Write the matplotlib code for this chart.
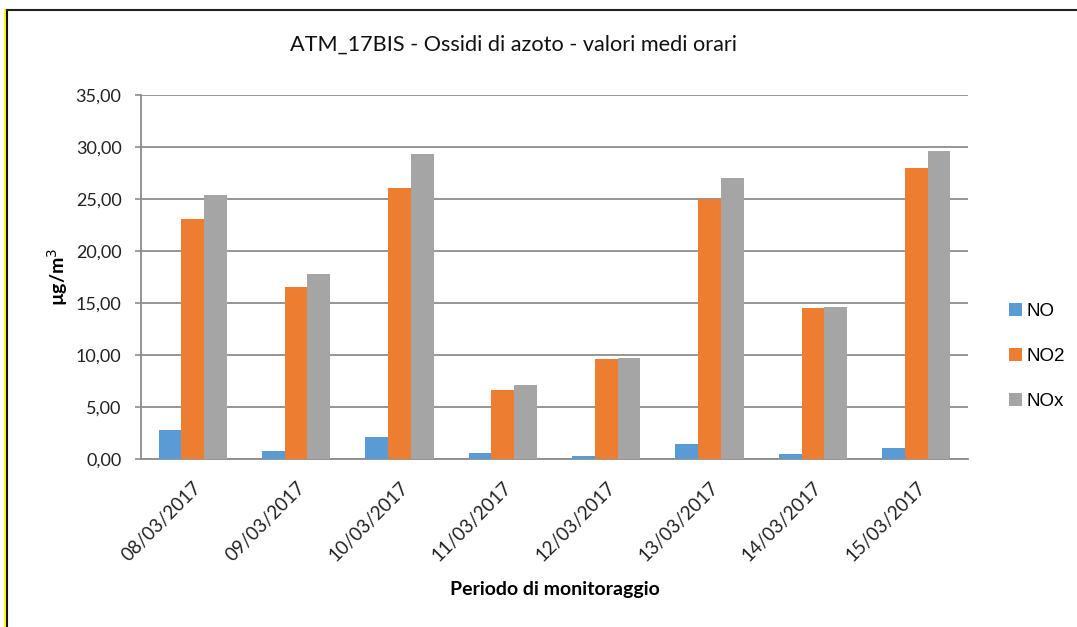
import numpy as np
import matplotlib
matplotlib.use("Agg")
import matplotlib.pyplot as plt
from matplotlib.lines import Line2D

plt.rcParams['font.family'] = ['Lato', 'DejaVu Sans']

dates = ["08/03/2017", "09/03/2017", "10/03/2017", "11/03/2017",
         "12/03/2017", "13/03/2017", "14/03/2017", "15/03/2017"]
no_vals = [2.80, 0.77, 2.15, 0.60, 0.30, 1.40, 0.48, 1.10]
no2_vals = [23.1, 16.5, 26.1, 6.6, 9.6, 25.0, 14.55, 27.95]
nox_vals = [25.4, 17.75, 29.3, 7.1, 9.75, 27.0, 14.65, 29.65]
series_names = ["NO", "NO2", "NOx"]
series_colors = ["#5B9BD5", "#ED7D31", "#A5A5A5"]
yticks = [0, 5, 10, 15, 20, 25, 30, 35]

W, H = 1077, 627
fig = plt.figure(figsize=(W / 100, H / 100), dpi=100)
ax = fig.add_axes([141 / W, 1 - 459 / H, (968 - 141) / W, (459 - 95) / H])

x = np.arange(len(dates))
bw = 0.22
handles = []
for i, (vals, name, col) in enumerate(zip([no_vals, no2_vals, nox_vals], series_names, series_colors)):
    b = ax.bar(x + (i - 1) * bw, vals, width=bw, color=col, label=name, zorder=3)
    handles.append(b)

ax.set_xlim(-0.5, len(dates) - 0.5)
ax.set_ylim(0, 35)
ax.set_yticks(yticks)
ax.set_yticklabels([f"{v:.2f}".replace(".", ",") for v in yticks], fontsize=13, color="#222222")
ax.yaxis.grid(True, color="#8c8c8c", linewidth=1.3, zorder=0)
ax.set_axisbelow(True)
ax.tick_params(axis="y", length=4, color="#8c8c8c", width=1.2, pad=10)
ax.tick_params(axis="x", length=0, pad=14)
ax.set_xticks(x)
ax.set_xticklabels(dates, rotation=45, ha="right", va="top", rotation_mode="anchor",
                   fontsize=13.5, color="#222222")

for side in ["top", "right"]:
    ax.spines[side].set_visible(False)
for side in ["left", "bottom"]:
    ax.spines[side].set_color("#8c8c8c")
    ax.spines[side].set_linewidth(1.3)

ax.set_ylabel("µg/m$^3$", fontsize=14, fontweight="bold")
ax.yaxis.set_label_coords(-0.086, 0.5)
ax.set_xlabel("Periodo di monitoraggio", fontsize=14, fontweight="bold")
ax.xaxis.set_label_coords(0.5, -0.335)
fig.text(513 / W, 1 - 45 / H, "ATM_17BIS - Ossidi di azoto - valori medi orari",
         ha="center", va="center", fontsize=15.6, color="#111111")

leg = ax.legend(handles=handles, labels=series_names, loc="center left",
                bbox_to_anchor=(1.029, 0.282), frameon=False, handlelength=0.7,
                handleheight=0.7, handletextpad=0.25, labelspacing=1.5,
                prop={"family": "Liberation Sans", "size": 13.5})

# outer frame lines
fig.add_artist(Line2D([4.5 / W, 4.5 / W], [0, 1 - 10 / H], color="#ffff00", linewidth=1.5))
fig.add_artist(Line2D([7 / W, 7 / W], [0, 1 - 10 / H], color="#111111", linewidth=1.5))
fig.add_artist(Line2D([7 / W, 1], [1 - 10 / H, 1 - 10 / H], color="#222222", linewidth=1.5))

fig.savefig("out.png", dpi=100, facecolor="white")
